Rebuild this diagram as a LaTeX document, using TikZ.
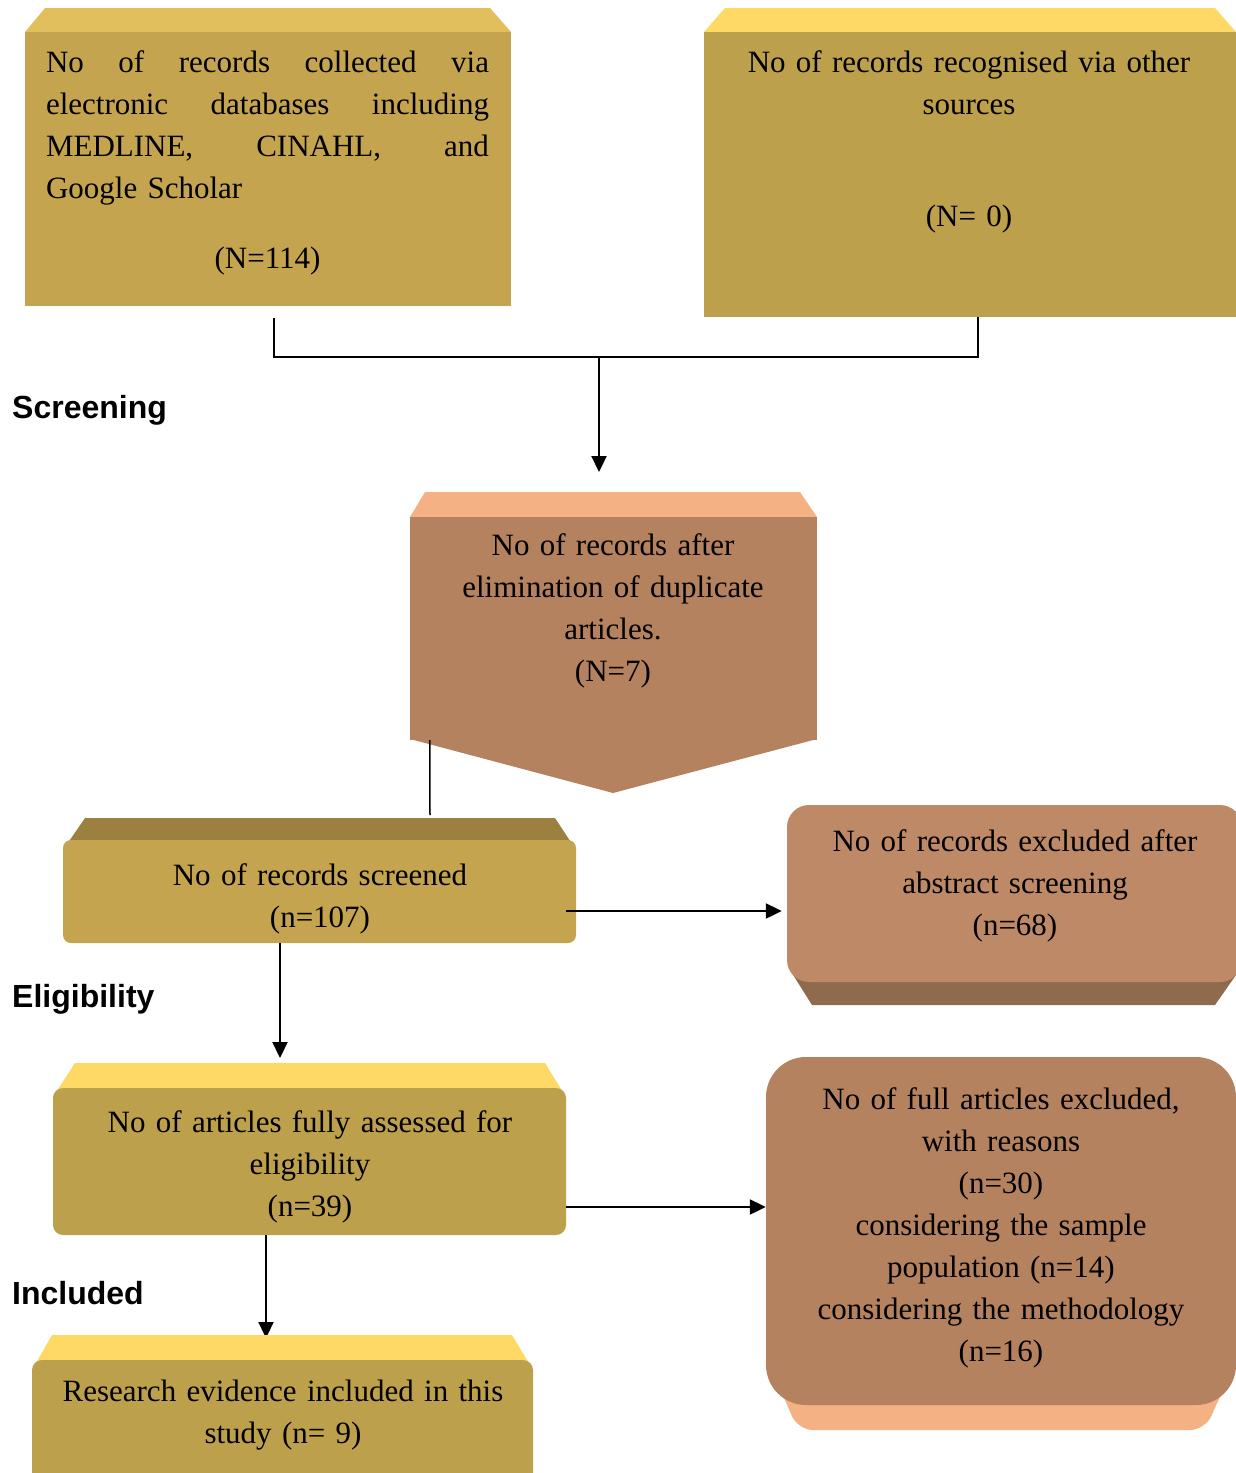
\documentclass[tikz,border=0pt]{standalone}
\usepackage{fontspec}
\setmainfont{Liberation Serif}
\setsansfont{Liberation Sans}
\usetikzlibrary{arrows.meta}
\definecolor{goldface}{HTML}{C4A44E}
\definecolor{goldtop}{HTML}{E1BF5C}
\definecolor{oliveface}{HTML}{BDA04B}
\definecolor{yellowtop}{HTML}{FFD966}
\definecolor{darktop}{HTML}{9C8040}
\definecolor{brownface}{HTML}{B4825F}
\definecolor{peach}{HTML}{F4B183}
\definecolor{tanface}{HTML}{BE8966}
\definecolor{darkbrown}{HTML}{8F6A4D}
\tikzset{
	face/.style={inner sep=0pt, draw=none},
	txt/.style={inner sep=0pt, anchor=north, align=center, text width=500pt, font=\fontsize{31}{42}\selectfont},
	stage/.style={inner sep=0pt, anchor=west, font=\sffamily\bfseries\fontsize{32}{38}\selectfont},
	link/.style={line width=2pt},
	arr/.style={-{Triangle[length=16pt,width=15pt]}, line width=2.2pt}
}
\begin{document}
\begin{tikzpicture}[x=1pt, y=-1pt]
	\clip (0,0) rectangle (1236,1473);
	\fill[goldtop] (25,32) -- (45,8) -- (490,8) -- (511,32) -- cycle;
	\node[face, fill=goldface, minimum width=486pt, minimum height=274pt] (collected) at (268,169) {};
	\node[txt, align=left, text width=443pt] (collectedtxt) at (267.5,50) {No\hfill of\hfill records\hfill collected\hfill via\\ electronic\hfill databases\hfill including\\ MEDLINE,\hfill CINAHL,\hfill and\\ Google Scholar\\[28pt] \hfill(N=114)\hfill\mbox{}};

	\fill[yellowtop] (704,32) -- (725,8) -- (1215,8) -- (1236,32) -- cycle;
	\node[face, fill=oliveface, minimum width=532pt, minimum height=285pt] (other) at (970,174.5) {};
	\node[txt] (othertxt) at (969,50) {No of records recognised via other\\sources\\[70pt](N= 0)};

	\coordinate (fromcollected) at (274,318);
	\coordinate (merge) at (599,357);
	\coordinate (dupin) at (599,472);
	\draw[link] (fromcollected) |- (merge) -| ([xshift=8pt]other.south);
	\draw[arr] (merge) -- (dupin);
	\node[stage] (screening) at (12,410) {Screening};

	\fill[peach] (410,517) -- (425,492) -- (800,492) -- (817,517) -- cycle;
	\fill[brownface] (410,739) -- (613,793) -- (817,739) -- cycle;
	\node[face, fill=brownface, minimum width=407pt, minimum height=223pt] (duplicates) at (613.5,628.5) {};
	\node[txt] (duplicatestxt) at (613,533) {No of records after\\elimination of duplicate\\articles.\\(N=7)};

	\fill[darktop] (63,850) -- (85,818) -- (555,818) -- (576,850) -- cycle;
	\node[face, fill=goldface, rounded corners=8pt, minimum width=513pt, minimum height=103pt] (screened) at (319.5,891.5) {};
	\node[txt] (screenedtxt) at (320,863) {No of records screened\\(n=107)};
	\coordinate (scrin) at (430,815);
	\draw[line width=1.5pt] ([xshift=20pt]duplicates.south west) -- (scrin);

	\fill[darkbrown] (790,970) -- (812,1005) -- (1215,1005) -- (1236,975) -- cycle;
	\node[face, fill=tanface, rounded corners=22pt, minimum width=455pt, minimum height=177pt] (excluded) at (1014.5,893.5) {};
	\node[txt] (excludedtxt) at (1015,829) {No of records excluded after\\abstract screening\\(n=68)};
	\coordinate (scrout) at (566,911);
	\draw[arr, shorten >=5pt] (scrout) -- (scrout -| excluded.west);

	\node[stage] (eligibility) at (12,999) {Eligibility};
	\coordinate (scrdown) at (280,943);
	\coordinate (assin) at (280,1058);
	\draw[arr] (scrdown) -- (assin);

	\fill[yellowtop] (53,1097) -- (75,1063) -- (545,1063) -- (566,1097) -- cycle;
	\node[face, fill=oliveface, rounded corners=10pt, minimum width=513pt, minimum height=147pt] (assessed) at (309.5,1161.5) {};
	\node[txt] (assessedtxt) at (310,1110) {No of articles fully assessed for\\eligibility\\(n=39)};

	\fill[peach, rounded corners=15pt] (772,1370) -- (798,1430) -- (1205,1430) -- (1232,1370) -- cycle;
	\node[face, fill=brownface, rounded corners=40pt, minimum width=470pt, minimum height=348pt] (fulltext) at (1001,1231) {};
	\node[txt] (fulltexttxt) at (1001,1087) {No of full articles excluded,\\with reasons\\(n=30)\\considering the sample\\population (n=14)\\considering the methodology\\(n=16)};
	\coordinate (assout) at (566,1207);
	\draw[arr] (assout) -- (assout -| fulltext.west);

	\node[stage] (included) at (12,1293) {Included};
	\coordinate (assdown) at (266,1235);
	\coordinate (resin) at (266,1338);
	\draw[arr] (assdown) -- (resin);

	\fill[yellowtop] (32,1370) -- (52,1335) -- (512,1335) -- (533,1370) -- cycle;
	\node[face, fill=oliveface, rounded corners=10pt, minimum width=501pt, minimum height=140pt] (research) at (282.5,1430) {};
	\node[txt] (researchtxt) at (283,1380) {Research evidence included in this\\study (n= 9)};
\end{tikzpicture}
\end{document}
